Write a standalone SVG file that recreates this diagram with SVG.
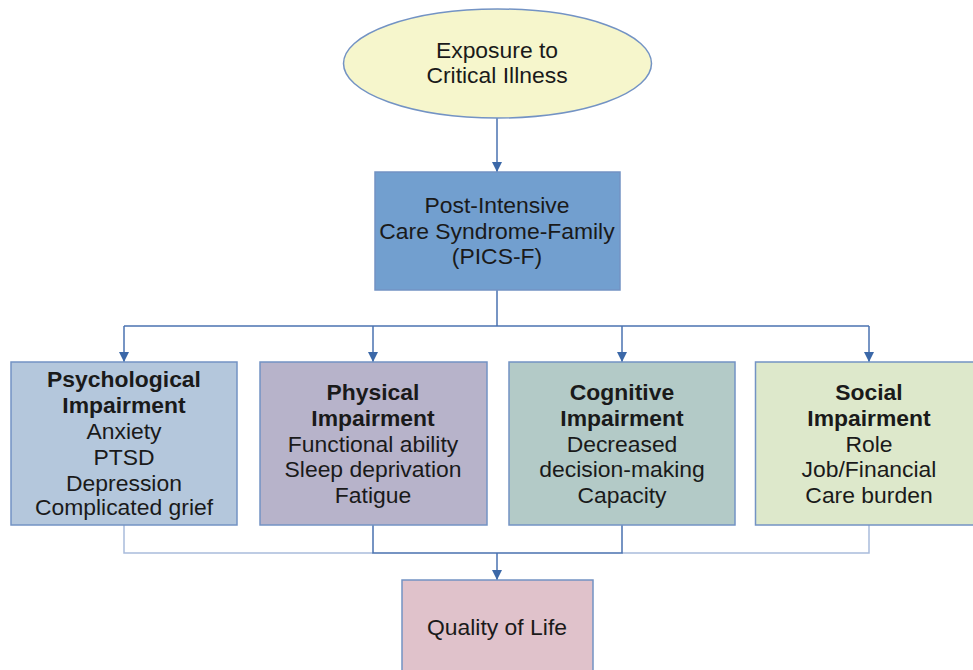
<svg xmlns="http://www.w3.org/2000/svg" width="973" height="670" viewBox="0 0 973 670">
  <style>
    text { font-family: "Liberation Sans", Arial, sans-serif; font-size: 22.9px; fill: #1a1a1a; text-anchor: middle; }
    .b { font-weight: bold; }
    .box { stroke: #7393c4; stroke-width: 1.5; }
    .wire { fill: none; stroke: #4a72b0; stroke-width: 1.5; }
    .soft { fill: none; stroke: #a9bcdc; stroke-width: 1.5; }
  </style>
  <defs>
    <marker id="arrow" viewBox="0 0 10 10" refX="10" refY="5" markerWidth="10" markerHeight="10" markerUnits="userSpaceOnUse" orient="auto">
      <path d="M0,0 L10,5 L0,10 Z" fill="#3b68a8"/>
    </marker>
  </defs>
  <rect width="973" height="670" fill="#ffffff"/>

  <g id="connectors">
    <path class="wire" d="M497,118 V172" marker-end="url(#arrow)"/>
    <path class="wire" d="M497,290 V326"/>
    <path class="wire" d="M124,326 H869"/>
    <path class="wire" d="M124,326 V362" marker-end="url(#arrow)"/>
    <path class="wire" d="M373,326 V362" marker-end="url(#arrow)"/>
    <path class="wire" d="M622,326 V362" marker-end="url(#arrow)"/>
    <path class="wire" d="M869,326 V362" marker-end="url(#arrow)"/>
    <path class="soft" d="M124,525 V553 H373"/>
    <path class="soft" d="M869,525 V553 H622"/>
    <path class="wire" d="M373,525 V553 H622 V525" stroke="#6f8fc2"/>
    <path class="wire" d="M497,553 V580" marker-end="url(#arrow)"/>
  </g>

  <g id="exposure">
    <ellipse cx="497.5" cy="63.5" rx="154" ry="54.5" fill="#f6f6cc" stroke="#7393c4" stroke-width="1.5"/>
    <text x="497" y="58">Exposure to</text>
    <text x="497" y="83">Critical Illness</text>
  </g>

  <g id="pics-f">
    <rect class="box" x="375" y="172" width="245" height="118" fill="#729fcf"/>
    <text x="497" y="213">Post-Intensive</text>
    <text x="497" y="239">Care Syndrome-Family</text>
    <text x="497" y="264">(PICS-F)</text>
  </g>

  <g id="psychological">
    <rect class="box" x="11" y="362" width="226" height="163" fill="#b4c7dc"/>
    <text class="b" x="124" y="387">Psychological</text>
    <text class="b" x="124" y="413">Impairment</text>
    <text x="124" y="439">Anxiety</text>
    <text x="124" y="465">PTSD</text>
    <text x="124" y="491">Depression</text>
    <text x="124" y="515">Complicated grief</text>
  </g>

  <g id="physical">
    <rect class="box" x="260" y="362" width="227" height="163" fill="#b7b3ca"/>
    <text class="b" x="373" y="400">Physical</text>
    <text class="b" x="373" y="426">Impairment</text>
    <text x="373" y="452">Functional ability</text>
    <text x="373" y="477">Sleep deprivation</text>
    <text x="373" y="503">Fatigue</text>
  </g>

  <g id="cognitive">
    <rect class="box" x="509" y="362" width="226" height="163" fill="#b3cac7"/>
    <text class="b" x="622" y="400">Cognitive</text>
    <text class="b" x="622" y="426">Impairment</text>
    <text x="622" y="452">Decreased</text>
    <text x="622" y="477">decision-making</text>
    <text x="622" y="503">Capacity</text>
  </g>

  <g id="social">
    <rect class="box" x="755.5" y="362" width="227" height="163" fill="#dde8cb"/>
    <text class="b" x="869" y="400">Social</text>
    <text class="b" x="869" y="426">Impairment</text>
    <text x="869" y="452">Role</text>
    <text x="869" y="477">Job/Financial</text>
    <text x="869" y="503">Care burden</text>
  </g>

  <g id="quality-of-life">
    <rect class="box" x="402" y="580" width="191" height="100" fill="#e0c2cb"/>
    <text x="497" y="635">Quality of Life</text>
  </g>
</svg>
